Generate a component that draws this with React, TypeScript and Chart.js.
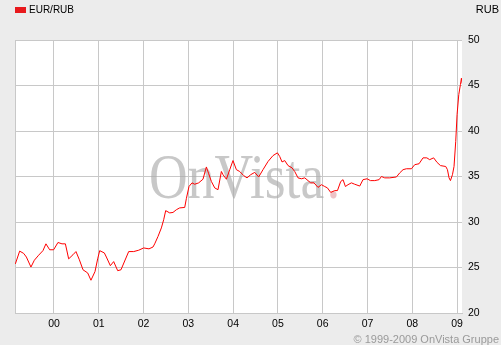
import React, { useEffect, useRef } from "react";
import { Chart, registerables } from "chart.js";

Chart.register(...registerables);

// Dates as decimal years, EUR/RUB rate values
const dates = [
  1999.138, 1999.234, 1999.323, 1999.384, 1999.486, 1999.562, 1999.658, 1999.754, 1999.821, 1999.904,
  1999.993, 2000.089, 2000.179, 2000.255, 2000.328, 2000.424, 2000.491, 2000.567, 2000.648, 2000.753,
  2000.826, 2000.916, 2000.976, 2001.021, 2001.125, 2001.17, 2001.259, 2001.333, 2001.423, 2001.496,
  2001.668, 2001.78, 2001.892, 2002.003, 2002.121, 2002.211, 2002.249, 2002.322, 2002.398, 2002.45,
  2002.494, 2002.584, 2002.657, 2002.733, 2002.807, 2002.919, 2002.957, 2003.015, 2003.082, 2003.142,
  2003.231, 2003.327, 2003.403, 2003.455, 2003.515, 2003.589, 2003.662, 2003.738, 2003.774, 2003.85,
  2003.924, 2003.997, 2004.073, 2004.147, 2004.236, 2004.31, 2004.393, 2004.482, 2004.571, 2004.667,
  2004.779, 2004.891, 2004.989, 2005.04, 2005.092, 2005.152, 2005.226, 2005.315, 2005.375, 2005.449,
  2005.525, 2005.599, 2005.672, 2005.732, 2005.806, 2005.895, 2005.971, 2006.045, 2006.105, 2006.179,
  2006.268, 2006.329, 2006.402, 2006.454, 2006.507, 2006.565, 2006.641, 2006.715, 2006.827, 2006.9,
  2006.99, 2007.066, 2007.162, 2007.258, 2007.312, 2007.385, 2007.497, 2007.646, 2007.72, 2007.794,
  2007.869, 2007.981, 2008.055, 2008.151, 2008.24, 2008.325, 2008.388, 2008.477, 2008.553, 2008.629,
  2008.747, 2008.785, 2008.821, 2008.852, 2008.897, 2008.932, 2008.97, 2009.0, 2009.038, 2009.075,
  2009.097, 2009.115,
];

const rates = [
  25.4, 26.8, 26.55, 26.15, 25.05, 25.8, 26.35, 26.85, 27.6, 26.95,
  26.95, 27.75, 27.6, 27.6, 25.95, 26.4, 26.75, 25.85, 24.75, 24.4,
  23.6, 24.55, 25.95, 26.85, 26.6, 26.15, 25.2, 25.65, 24.65, 24.75,
  26.75, 26.75, 26.9, 27.15, 27.05, 27.25, 27.6, 28.4, 29.35, 30.25,
  31.25, 31.0, 31.05, 31.35, 31.55, 31.6, 32.6, 33.9, 34.3, 34.15,
  34.3, 34.7, 36.05, 35.3, 34.45, 33.75, 33.55, 35.55, 35.2, 34.7,
  35.75, 36.75, 35.75, 35.55, 35.1, 34.85, 35.2, 35.45, 34.95, 35.75,
  36.65, 37.3, 37.6, 37.2, 36.6, 36.75, 36.2, 35.95, 35.55, 34.85,
  34.75, 34.85, 34.55, 34.3, 34.3, 33.8, 34.1, 33.9, 33.75, 33.25,
  33.45, 33.45, 34.45, 34.65, 33.9, 34.1, 34.3, 34.15, 33.95, 34.65,
  34.75, 34.55, 34.55, 34.65, 35.0, 34.85, 34.85, 34.95, 35.4, 35.75,
  35.85, 35.85, 36.3, 36.4, 37.05, 37.05, 36.85, 37.05, 36.55, 36.2,
  36.1, 35.75, 34.85, 34.55, 35.2, 36.1, 38.85, 41.8, 44.0, 45.1,
  45.8, 45.2,
];

const xStart = 1999.13;
const xEnd = 2009.11;
const yearTicks = [2000, 2001, 2002, 2003, 2004, 2005, 2006, 2007, 2008, 2009];
const yMin = 20;
const yMax = 50;
const yStep = 5;

const seriesLabel = "EUR/RUB";
const currencyLabel = "RUB";
const copyrightText = "\u00A9 1999-2009 OnVista Gruppe";
const watermarkText = "OnVista";

const FONT = "'Liberation Sans', Arial, sans-serif";
const GRID = "#c8c8c8";

export default function App() {
  const canvasRef = useRef<HTMLCanvasElement | null>(null);

  useEffect(() => {
    document.body.style.margin = "0";
    const canvas = canvasRef.current;
    if (!canvas) return;

    const decor = {
      id: "decor",
      beforeDraw(chart: any) {
        const { ctx, chartArea: a, width, height } = chart;
        ctx.save();
        ctx.fillStyle = "#ececec";
        ctx.fillRect(0, 0, width, height);
        ctx.fillStyle = "#ffffff";
        ctx.fillRect(a.left, a.top, a.right - a.left, a.bottom - a.top);
        ctx.restore();
      },
      beforeDatasetsDraw(chart: any) {
        const { ctx } = chart;
        ctx.save();
        ctx.font = "63px 'Liberation Serif', 'Times New Roman', serif";
        ctx.textBaseline = "alphabetic";
        ctx.textAlign = "left";
        ctx.translate(149, 198);
        ctx.scale(0.85, 1);
        ctx.fillStyle = "rgba(170,170,170,0.65)";
        ctx.fillText(watermarkText, 0, 0);
        const w = ctx.measureText(watermarkText).width;
        ctx.fillStyle = "rgba(230,170,175,0.7)";
        ctx.fillText(".", w + 3, 0);
        ctx.restore();
      },
      afterDraw(chart: any) {
        const { ctx } = chart;
        ctx.save();
        // legend
        ctx.fillStyle = "#e8191c";
        ctx.fillRect(15, 7, 11, 6);
        ctx.fillStyle = "#000";
        ctx.font = `10px ${FONT}`;
        ctx.textBaseline = "middle";
        ctx.textAlign = "left";
        ctx.fillText(seriesLabel, 29, 10);
        // currency
        ctx.font = `11px ${FONT}`;
        ctx.textAlign = "right";
        ctx.fillText(currencyLabel, 499, 10);
        // copyright
        ctx.fillStyle = "#9a9a9a";
        ctx.font = `11px ${FONT}`;
        ctx.fillText(copyrightText, 499, 340);
        ctx.restore();
      },
    };

    const chart = new Chart(canvas, {
      type: "line",
      data: {
        datasets: [
          {
            label: seriesLabel,
            data: dates.map((d, i) => ({ x: d, y: rates[i] })),
            borderColor: "#ff0000",
            borderWidth: 1,
            pointRadius: 0,
            tension: 0,
            fill: false,
          },
        ],
      },
      options: {
        responsive: false,
        animation: false,
        events: [],
        layout: { padding: { left: 15, top: 40, right: 0, bottom: 0 } },
        plugins: {
          legend: { display: false },
          tooltip: { enabled: false },
          title: { display: false },
        },
        scales: {
          x: {
            type: "linear",
            min: xStart,
            max: xEnd,
            afterBuildTicks: (s: any) => {
              s.ticks = [xStart, ...yearTicks].map((v) => ({ value: v }));
            },
            afterFit: (s: any) => {
              s.height = 32;
            },
            ticks: {
              autoSkip: false,
              maxRotation: 0,
              padding: 5,
              color: "#000",
              font: { family: FONT, size: 10.5 },
              callback: (v: any) => (v < 2000 ? "" : String(Math.round(v) % 100).padStart(2, "0")),
            },
            grid: { color: GRID, drawTicks: false, lineWidth: 1 },
            border: { display: true, color: GRID },
          },
          y: {
            position: "right",
            min: yMin,
            max: yMax,
            afterFit: (s: any) => {
              s.width = 39;
            },
            ticks: {
              stepSize: yStep,
              padding: 6,
              color: "#000",
              font: { family: FONT, size: 10.5 },
            },
            grid: { color: GRID, drawTicks: false, lineWidth: 1 },
            border: { display: false },
          },
        },
      },
      plugins: [decor],
    });

    return () => chart.destroy();
  }, []);

  return (
    <div style={{ width: 501, height: 345 }}>
      <canvas ref={canvasRef} width={501} height={345} style={{ display: "block" }} />
    </div>
  );
}
